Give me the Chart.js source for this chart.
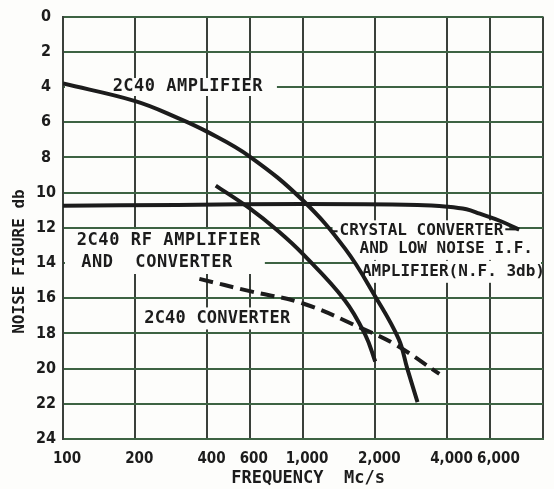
<!DOCTYPE html>
<html>
<head>
<meta charset="utf-8">
<script src="https://cdn.jsdelivr.net/npm/chart.js@4/dist/chart.umd.min.js"></script>
<style>
  html, body { margin: 0; padding: 0; background: #fdfdfb; }
</style>
</head>
<body>
<canvas id="noise" width="554" height="489"></canvas>
<script>
// frequency axis (Mc/s) and noise figure axis (db)
const freqTicks = [100, 200, 400, 600, 1000, 2000, 4000, 6000, 10000];

// 2C40 amplifier
const amplifierFreq = [100, 200, 300, 400, 600, 1000, 1500, 2000, 2500, 2720, 3000];
const amplifierNF = [3.8, 4.8, 5.75, 6.55, 7.95, 10.45, 13.2, 15.9, 18.3, 20.0, 21.9];

// 2C40 RF amplifier and converter
const rfConverterFreq = [433, 600, 790, 1000, 1490, 1820, 2000];
const rfConverterNF = [9.6, 10.9, 12.2, 13.5, 16.1, 18.1, 19.6];

// 2C40 converter (dashed)
const converterFreq = [370, 600, 1000, 1750, 2400, 3700];
const converterNF = [14.9, 15.6, 16.3, 17.7, 18.6, 20.3];

// crystal converter and low noise I.F. amplifier
const crystalFreq = [100, 300, 1000, 3000, 4000, 4800, 5450, 6600, 7950];
const crystalNF = [10.75, 10.7, 10.65, 10.7, 10.8, 10.95, 11.2, 11.6, 12.1];

const INK = '#1c1c1c';
const PAPER = '#fdfdfb';
const GRID_V = '#3a403a';
const GRID_H = '#3d6343';
const NARROW = "'Liberation Sans Narrow', 'DejaVu Sans Condensed', sans-serif";
const MONO = "'DejaVu Sans Mono', 'Liberation Mono', monospace";

const pts = (xs, ys) => xs.map((x, i) => ({ x: x, y: ys[i] }));

// curve captions, placed in data units; a paper box hides the grid behind them
const notes = [
    { lines: [['2C40 AMPLIFIER', 161, 4.0]], size: 17, gap: 0.5, pad: [48, 14], half: 9, group: true },
    { lines: [['2C40 RF AMPLIFIER', 114, 12.7], ['AND  CONVERTER', 119, 14.0]], size: 17, gap: 0.6, pad: [14, 4], half: 11, group: true },
    { lines: [['2C40 CONVERTER', 218, 17.15]], size: 17, gap: 0.2, pad: [6, 4], half: 11, group: true },
    { lines: [['CRYSTAL CONVERTER', 1420, 12.2], ['AND LOW NOISE I.F.', 1720, 13.2], ['AMPLIFIER(N.F. 3db)', 1760, 14.5]], size: 16, gap: 0, pad: [7, 6], half: 11, group: false, lead: true }
];

const notesPlugin = {
    id: 'notes',
    beforeDatasetsDraw(chart) {
        const { ctx, chartArea, scales: { x, y } } = chart;
        ctx.save();
        ctx.textBaseline = 'middle';
        ctx.textAlign = 'left';
        notes.forEach(n => {
            ctx.font = 'bold ' + n.size + 'px ' + MONO;
            ctx.letterSpacing = n.gap + 'px';
            const rows = n.lines.map(([t, f, v]) => {
                const px = x.getPixelForValue(f);
                const py = y.getPixelForValue(v);
                return { t, px, py, w: ctx.measureText(t).width };
            });
            ctx.fillStyle = PAPER;
            if (n.group) {
                const l = Math.max(Math.min(...rows.map(r => r.px)) - n.pad[0], chartArea.left + 2);
                const r = Math.min(Math.max(...rows.map(r => r.px + r.w)) + n.pad[1], chartArea.right - 2);
                const t = rows[0].py - n.half;
                const b = rows[rows.length - 1].py + n.half;
                ctx.fillRect(l, t, r - l, b - t);
            } else {
                rows.forEach(row => {
                    const r = Math.min(row.px + row.w + n.pad[1], chartArea.right - 2);
                    ctx.fillRect(row.px - n.pad[0], row.py - n.half, r - row.px + n.pad[0], n.half * 2);
                });
            }
            ctx.fillStyle = INK;
            rows.forEach(row => ctx.fillText(row.t, row.px, row.py));
            if (n.lead) {
                // short leaders from the caption to the end of the crystal curve
                const first = rows[0];
                const endX = x.getPixelForValue(crystalFreq[crystalFreq.length - 1]);
                const endY = y.getPixelForValue(crystalNF[crystalNF.length - 1]);
                ctx.strokeStyle = INK;
                ctx.lineWidth = 2;
                ctx.beginPath();
                ctx.moveTo(first.px - 7, first.py);
                ctx.lineTo(first.px - 2, first.py);
                ctx.moveTo(first.px + first.w + 2, first.py - 2);
                ctx.lineTo(endX, endY);
                ctx.stroke();
            }
        });
        ctx.restore();
    }
};

const curve = (data, dash) => ({
    data: data,
    borderColor: INK,
    borderWidth: 4,
    borderDash: dash || [],
    borderCapStyle: 'butt',
    pointRadius: 0,
    fill: false,
    tension: 0.4
});

// tick text; the 6,000 label sits a little right of its line, as on the original sheet
const freqLabel = (v) => {
    if (v >= 10000) return '';
    const s = Number(v).toLocaleString('en-US');
    return v === 6000 ? '  ' + s : s;
};

new Chart(document.getElementById('noise').getContext('2d'), {
    type: 'line',
    data: {
        datasets: [
            curve(pts(amplifierFreq, amplifierNF)),
            curve(pts(rfConverterFreq, rfConverterNF)),
            curve(pts(converterFreq, converterNF), [14, 7]),
            curve(pts(crystalFreq, crystalNF))
        ]
    },
    options: {
        responsive: false,
        animation: false,
        layout: { padding: { top: 14, right: 7, left: 0, bottom: 0 } },
        plugins: {
            legend: { display: false },
            tooltip: { enabled: false }
        },
        scales: {
            x: {
                type: 'logarithmic',
                min: 100,
                max: 10000,
                afterBuildTicks: (scale) => { scale.ticks = freqTicks.map(v => ({ value: v })); },
                afterFit: (scale) => { scale.height = 50; },
                grid: { color: GRID_V, lineWidth: 2, drawTicks: false },
                border: { color: GRID_H, width: 2 },
                ticks: {
                    autoSkip: false,
                    maxRotation: 0,
                    padding: 11,
                    labelOffset: 4,
                    color: INK,
                    font: { family: NARROW, size: 15, weight: 'bold' },
                    callback: freqLabel
                },
                title: {
                    display: true,
                    text: ' FREQUENCY  Mc/s',
                    color: INK,
                    font: { family: MONO, size: 17, weight: 'bold' },
                    padding: { top: 0, bottom: 0 }
                }
            },
            y: {
                reverse: true,
                min: 0,
                max: 24,
                afterFit: (scale) => { scale.width = 63; },
                grid: { color: GRID_H, lineWidth: 2, drawTicks: false },
                border: { color: GRID_V, width: 2 },
                ticks: {
                    stepSize: 2,
                    crossAlign: 'center',
                    padding: 7,
                    color: INK,
                    font: { family: NARROW, size: 16, weight: 'bold' }
                },
                title: {
                    display: true,
                    text: 'NOISE FIGURE db       ',
                    color: INK,
                    font: { family: MONO, size: 16, weight: 'bold' },
                    padding: { top: 10, bottom: 0 }
                }
            }
        }
    },
    plugins: [notesPlugin]
});
</script>
</body>
</html>
